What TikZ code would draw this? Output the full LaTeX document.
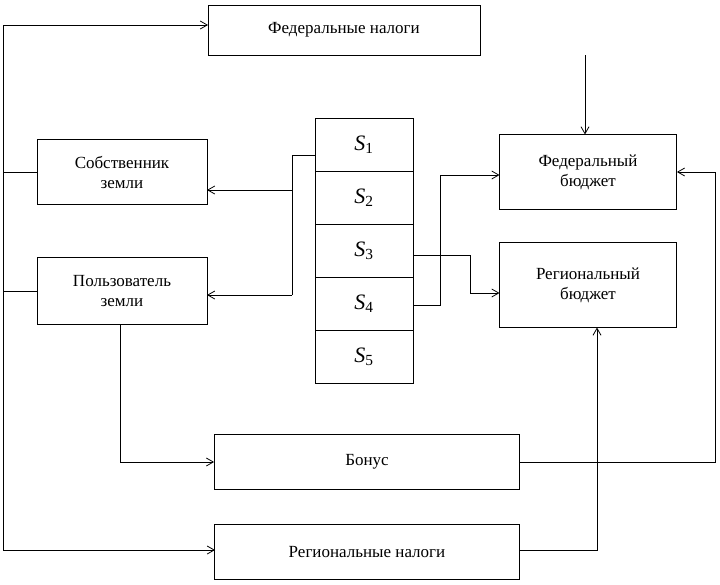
\documentclass[tikz,border=0pt]{standalone}
\usepackage{fontspec}
\setmainfont{Liberation Serif}
\usetikzlibrary{arrows.meta}
\tikzset{
  blk/.style = {draw, thick, align = center, inner sep = 0pt, font = \fontsize{17}{20}\selectfont},
  cell/.style = {blk, minimum width = 98pt, minimum height = 53pt, font = \fontsize{22}{24}\selectfont},
  link/.style = {thick, -{Straight Barb[length = 7pt, width = 8pt]}}
}
\begin{document}
\begin{tikzpicture}[x = 1pt, y = -1pt]
            \useasboundingbox (0, 0) rectangle (720, 584);

            \node [blk, minimum width = 272pt, minimum height = 50pt] (fedtax) at (344, 30) {Федеральные налоги};
            \node [blk, minimum width = 170pt, minimum height = 65pt] (owner) at (122, 172) {Собственник\\земли};
            \node [blk, minimum width = 170pt, minimum height = 67pt] (user) at (122, 291) {Пользователь\\земли};
            \node [blk, minimum width = 177pt, minimum height = 75pt] (fedbud) at (588, 172) {Федеральный\\бюджет};
            \node [blk, minimum width = 177pt, minimum height = 85pt] (regbud) at (588, 285) {Региональный\\бюджет};
            \node [blk, minimum width = 305pt, minimum height = 55pt] (bonus) at (367, 462) {Бонус};
            \node [blk, minimum width = 305pt, minimum height = 55pt] (regtax) at (367, 552) {Региональные налоги};

            % столбец S
            \foreach \i in {1, ..., 5}
                \node [cell] (s\i) at (364, 92 + 53 * \i) {\textit{S}\textsubscript{\i}};

            % левая шина
            \draw [thick] (owner.west) -- (3, 172);
            \draw [thick] (user.west) -- (3, 291);
            \draw [link] (3, 550) -- (3, 25) -- (208, 25);
            \draw [link] (3, 550) -- (215, 550);

            \draw [link] (585, 55) -- (585, 134.5);

            % от S1
            \draw [thick] (315, 155) -- (292, 155) -- (292, 295);
            \draw [link] (292, 190) -- (207, 190);
            \draw [link] (292, 295) -- (207, 295);

            % от S3 и S4
            \draw [link] (413, 255) -- (470, 255) -- (470, 293) -- (499.5, 293);
            \draw [link] (413, 305) -- (440, 305) -- (440, 175) -- (499.5, 175);

            \draw [link] (120, 324.5) -- (120, 462) -- (bonus.west);
            \draw [link] (bonus.east) -- (715, 462) -- (715, 172) -- (fedbud.east);
            \draw [link] (519.5, 550) -- (597, 550) -- (597, 327.5);
\end{tikzpicture}
\end{document}
